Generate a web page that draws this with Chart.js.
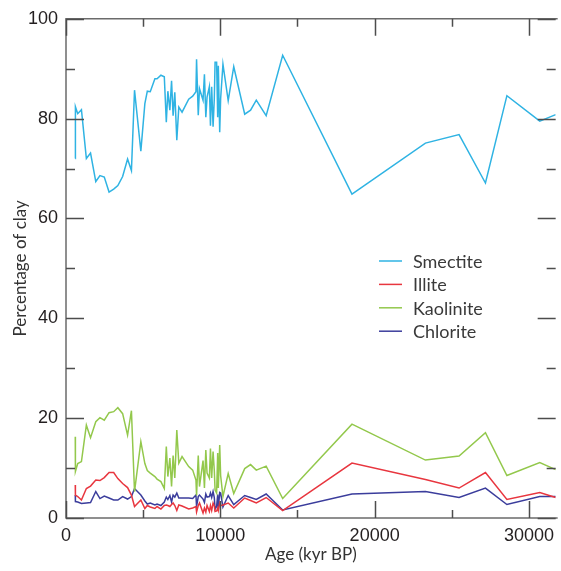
<!DOCTYPE html>
<html>
<head>
<meta charset="utf-8">
<script src="https://cdn.jsdelivr.net/npm/chart.js@4.4.1/dist/chart.umd.min.js"></script>
<style>
  html, body { margin: 0; padding: 0; background: #fff; }
  #wrap { width: 561px; height: 571px; }
</style>
</head>
<body>
<div id="wrap"><canvas id="clay" width="561" height="571"></canvas></div>
<script>
// age of each sample (kyr BP as labelled on the axis)
const ages = [
  600, 610, 760, 1000, 1320, 1590, 1930, 2200, 2480, 2790,
  3090, 3360, 3670, 3990, 4240, 4440, 4850, 5110, 5270, 5460,
  5760, 5900, 6150, 6370, 6500, 6600, 6730, 6840, 6940, 7050,
  7180, 7310, 7520, 7950, 8210, 8420, 8460, 8570, 8650, 8880,
  8970, 9060, 9140, 9290, 9360, 9440, 9530, 9610, 9660, 9760,
  9830, 9870, 9960, 10020, 10170, 10510, 10870, 11580, 11960, 12330,
  12970, 14040, 18530, 23290, 25470, 27180, 28570, 30700, 31730
];
const smectite = [
  72.0, 82.4, 81.0, 81.8, 72.0, 73.1, 67.4, 68.6, 68.3, 65.3,
  65.9, 66.6, 68.4, 71.9, 69.6, 85.7, 73.5, 83.0, 85.5, 85.4,
  88.0, 88.0, 88.7, 88.4, 79.3, 85.5, 81.7, 87.6, 80.6, 85.3,
  75.7, 82.3, 81.3, 83.9, 84.5, 85.4, 91.9, 80.7, 86.0, 83.7,
  88.9, 80.3, 84.3, 86.4, 78.6, 86.4, 78.4, 84.0, 91.3, 91.3,
  80.3, 90.6, 77.3, 84.0, 90.9, 83.6, 90.4, 80.9, 81.7, 83.7,
  80.6, 92.7, 64.9, 75.1, 76.8, 67.1, 84.6, 79.5, 80.8
];
const illite = [
  6.6, 4.6, 4.3, 3.6, 5.9, 6.4, 7.6, 7.5, 8.1, 9.1,
  9.1, 7.9, 6.9, 6.1, 4.6, 2.3, 3.6, 1.9, 2.5, 2.2,
  1.9, 2.3, 1.8, 2.5, 2.6, 2.5, 2.3, 2.7, 3.0, 2.5,
  1.5, 2.6, 2.4, 1.8, 2.0, 2.3, 1.2, 2.5, 3.0, 1.0,
  2.0, 1.2, 2.5, 1.3, 2.5, 1.5, 3.0, 2.4, 1.3, 1.4,
  2.0, 1.5, 3.0, 2.5, 2.6, 3.0, 2.0, 4.0, 3.5, 3.0,
  4.1, 1.5, 11.0, 7.7, 6.0, 9.1, 3.7, 5.1, 4.1
];
const kaolinite = [
  16.3, 9.3, 10.9, 11.3, 18.6, 16.1, 19.3, 20.1, 19.6, 21.1,
  21.3, 22.1, 20.9, 16.6, 21.5, 5.3, 15.3, 10.9, 9.5, 9.0,
  8.3, 7.8, 7.3, 5.9, 14.3, 8.3, 12.0, 6.3, 12.5, 8.0,
  17.6, 11.0, 12.3, 10.3, 9.6, 7.6, 4.5, 12.5, 6.3, 11.5,
  6.0, 13.6, 9.0, 8.0, 13.9, 8.0, 13.3, 9.5, 5.6, 5.0,
  13.0, 6.0, 14.6, 8.5, 4.3, 8.9, 4.9, 9.9, 10.7, 9.6,
  10.4, 3.9, 18.8, 11.6, 12.4, 17.1, 8.5, 11.1, 9.7
];
const chlorite = [
  4.6, 3.3, 3.2, 2.9, 3.0, 3.1, 5.3, 3.9, 4.4, 4.0,
  3.6, 3.6, 4.3, 3.8, 4.3, 5.9, 4.6, 3.4, 2.8, 3.0,
  2.6, 2.8, 2.5, 3.2, 4.2, 3.7, 4.5, 3.2, 4.6, 4.2,
  5.0, 4.0, 4.0, 4.0, 3.9, 4.6, 2.3, 4.3, 4.6, 3.8,
  3.1, 4.8, 4.2, 4.3, 5.0, 4.1, 5.3, 4.1, 1.8, 2.3,
  4.7, 1.9, 5.1, 5.0, 2.2, 4.5, 2.7, 4.5, 4.1, 3.7,
  4.8, 1.6, 4.8, 5.3, 4.1, 6.0, 2.7, 4.3, 4.3
];

const seriesNames = ['Smectite', 'Illite', 'Kaolinite', 'Chlorite'];
const seriesColors = ['#2fb3e3', '#e8363f', '#93c84c', '#3b3d9c'];

const xMajor = [0, 10000, 20000, 30000];
const xMinor = [5000, 15000, 25000];
const yMajor = [0, 20, 40, 60, 80, 100];
const yMinor = [10, 30, 50, 70, 90];

const toPoints = vals => ages.map((a, i) => ({ x: a, y: vals[i] }));

// frame with inward ticks on all four sides + legend inside the plot
const framePlugin = {
    id: 'frame',
    afterDraw(chart) {
        const { ctx, chartArea: a, scales: { x, y } } = chart;
        ctx.save();
        ctx.strokeStyle = '#6b6b6b';
        ctx.lineWidth = 1.5;
        ctx.beginPath();
        ctx.moveTo(a.right + 2, a.top);
        ctx.lineTo(a.left, a.top);
        ctx.lineTo(a.left, a.bottom);
        ctx.lineTo(a.right + 2, a.bottom);
        ctx.stroke();

        ctx.strokeStyle = '#4d4d4d';
        ctx.beginPath();
        const xt = (vals, len) => vals.forEach(v => {
            const px = Math.round(x.getPixelForValue(v)) + 0.5;
            ctx.moveTo(px, a.bottom); ctx.lineTo(px, a.bottom - len);
            ctx.moveTo(px, a.top); ctx.lineTo(px, a.top + len);
        });
        const yt = (vals, len) => vals.forEach(v => {
            const py = Math.round(y.getPixelForValue(v)) + 0.5;
            ctx.moveTo(a.left, py); ctx.lineTo(a.left + len, py);
            ctx.moveTo(a.right, py); ctx.lineTo(a.right - len, py);
        });
        xt(xMajor, 17); xt(xMinor, 8);
        yt(yMajor, 18); yt(yMinor, 9);
        ctx.stroke();

        // legend
        ctx.font = '18px Lato';
        ctx.textBaseline = 'middle';
        ctx.textAlign = 'left';
        chart.data.datasets.forEach((ds, i) => {
            const ly = 261 + i * 23.4;
            ctx.strokeStyle = ds.borderColor;
            ctx.lineWidth = 1.5;
            ctx.beginPath();
            ctx.moveTo(379, ly); ctx.lineTo(402, ly);
            ctx.stroke();
            ctx.fillStyle = '#3a3a3a';
            ctx.fillText(ds.label, 413, ly + 1);
        });
        ctx.restore();
    }
};

new Chart(document.getElementById('clay'), {
    type: 'line',
    data: {
        datasets: seriesNames.map((name, i) => ({
            label: name,
            data: toPoints([smectite, illite, kaolinite, chlorite][i]),
            borderColor: seriesColors[i],
            borderWidth: 1.5,
            pointRadius: 0,
            tension: 0,
            fill: false
        }))
    },
    options: {
        responsive: false,
        animation: false,
        devicePixelRatio: 1,
        layout: { padding: { top: 18, right: 0, left: 0, bottom: 0 } },
        plugins: { legend: { display: false }, tooltip: { enabled: false } },
        scales: {
            x: {
                type: 'linear',
                min: 0,
                max: 31730,
                grid: { display: false, drawTicks: false },
                border: { display: false },
                afterBuildTicks: s => { s.ticks = xMajor.map(v => ({ value: v })); },
                afterFit: s => { s.height = 53; },
                ticks: {
                    padding: 7,
                    maxRotation: 0,
                    autoSkip: false,
                    color: '#231f20',
                    font: { family: 'Liberation Sans', size: 18 },
                    callback: v => String(v)
                },
                title: {
                    display: true,
                    text: 'Age (kyr BP)',
                    color: '#333',
                    font: { family: 'Lato', size: 17 },
                    padding: { top: 0, bottom: 6 }
                }
            },
            y: {
                type: 'linear',
                min: 0,
                max: 100,
                grid: { display: false, drawTicks: false },
                border: { display: false },
                afterBuildTicks: s => { s.ticks = yMajor.map(v => ({ value: v })); },
                afterFit: s => { s.width = 66; },
                ticks: {
                    padding: 8,
                    autoSkip: false,
                    color: '#231f20',
                    font: { family: 'Liberation Sans', size: 18 }
                },
                title: {
                    display: true,
                    text: 'Percentage of clay',
                    color: '#333',
                    font: { family: 'Lato', size: 17 },
                    padding: { top: 10, bottom: 0 }
                }
            }
        }
    },
    plugins: [framePlugin]
});
</script>
</body>
</html>
